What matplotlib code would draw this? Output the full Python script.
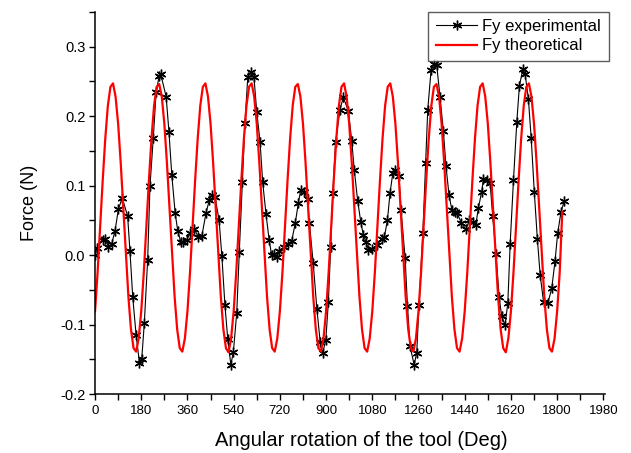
import numpy as np
import matplotlib
matplotlib.use("Agg")
import matplotlib.pyplot as plt
from matplotlib.ticker import MultipleLocator

plt.rcParams['font.family'] = ['Liberation Sans', 'DejaVu Sans']

# Experimental Fy (deg, N)
exp_deg = [0, 7, 30, 39, 52, 65, 78, 91, 106, 127, 136, 147, 160, 173, 182, 192, 205, 214, 227, 238,
           250, 256, 277, 288, 299, 312, 322, 334, 344, 357, 370, 386, 402, 416, 432, 445, 455, 467, 483, 494,
           506, 517, 529, 539, 552, 562, 574, 584, 595, 608, 619, 630, 643, 653, 666, 678, 688, 697, 708, 718,
           736, 751, 766, 780, 792, 801, 815, 828, 835, 850, 864, 877, 887, 899, 909, 918, 926, 937, 954, 967,
           987, 1000, 1010, 1023, 1035, 1045, 1056, 1065, 1078, 1097, 1117, 1127, 1139, 1149, 1160, 1169, 1184, 1192, 1208, 1217,
           1227, 1243, 1253, 1262, 1277, 1288, 1296, 1309, 1322, 1331, 1344, 1357, 1367, 1379, 1390, 1402, 1411, 1427, 1445, 1458,
           1471, 1483, 1493, 1506, 1513, 1526, 1539, 1549, 1562, 1574, 1584, 1597, 1608, 1617, 1630, 1643, 1653, 1666, 1675, 1688,
           1699, 1711, 1723, 1734, 1747, 1764, 1779, 1792, 1802, 1815, 1828]
exp_force = [0.000, 0.010, 0.022, 0.023, 0.012, 0.016, 0.035, 0.066, 0.082, 0.056, 0.006, -0.061, -0.115, -0.155, -0.149, -0.098, -0.007, 0.099, 0.169, 0.234,
             0.258, 0.260, 0.228, 0.177, 0.115, 0.061, 0.035, 0.019, 0.019, 0.022, 0.031, 0.038, 0.026, 0.027, 0.060, 0.079, 0.086, 0.084, 0.051, -0.001,
             -0.072, -0.121, -0.158, -0.139, -0.083, 0.005, 0.105, 0.190, 0.256, 0.264, 0.256, 0.206, 0.162, 0.105, 0.059, 0.022, 0.000, 0.002, -0.003, 0.006,
             0.011, 0.016, 0.020, 0.046, 0.075, 0.093, 0.091, 0.080, 0.046, -0.012, -0.077, -0.125, -0.141, -0.122, -0.067, 0.012, 0.089, 0.162, 0.209, 0.227,
             0.207, 0.164, 0.122, 0.078, 0.048, 0.029, 0.019, 0.007, 0.008, 0.014, 0.023, 0.026, 0.050, 0.089, 0.118, 0.122, 0.113, 0.065, -0.005, -0.073,
             -0.131, -0.158, -0.141, -0.072, 0.032, 0.133, 0.209, 0.266, 0.275, 0.273, 0.227, 0.178, 0.128, 0.086, 0.065, 0.062, 0.060, 0.046, 0.037, 0.050,
             0.047, 0.043, 0.067, 0.091, 0.109, 0.108, 0.103, 0.056, 0.002, -0.060, -0.088, -0.101, -0.069, 0.016, 0.108, 0.192, 0.243, 0.267, 0.261, 0.225,
             0.168, 0.091, 0.023, -0.029, -0.067, -0.069, -0.048, -0.008, 0.031, 0.062, 0.078]

# Theoretical Fy, read every 10 deg from 0 to 1820
theo_step = 10
theo_force = [
    -0.081, -0.025, 0.041, 0.108, 0.168, 0.215, 0.242, 0.247, 0.228, 0.189, 0.133, 0.068, 0.001, -0.060, -0.107, -0.134, -0.139, -0.120,
    -0.081, -0.025, 0.041, 0.108, 0.168, 0.215, 0.242, 0.246, 0.228, 0.189, 0.133, 0.068, 0.001, -0.060, -0.107, -0.134, -0.139, -0.120,
    -0.081, -0.025, 0.041, 0.108, 0.168, 0.215, 0.242, 0.247, 0.228, 0.189, 0.133, 0.068, 0.001, -0.060, -0.107, -0.134, -0.140, -0.120,
    -0.081, -0.025, 0.041, 0.108, 0.168, 0.215, 0.242, 0.247, 0.228, 0.189, 0.133, 0.068, 0.001, -0.060, -0.107, -0.134, -0.139, -0.120,
    -0.081, -0.025, 0.041, 0.108, 0.168, 0.215, 0.242, 0.246, 0.228, 0.189, 0.133, 0.068, 0.001, -0.060, -0.107, -0.134, -0.139, -0.120,
    -0.081, -0.025, 0.041, 0.108, 0.168, 0.215, 0.242, 0.247, 0.228, 0.189, 0.133, 0.068, 0.001, -0.060, -0.107, -0.134, -0.139, -0.120,
    -0.081, -0.025, 0.041, 0.108, 0.168, 0.215, 0.242, 0.247, 0.228, 0.189, 0.133, 0.068, 0.001, -0.060, -0.107, -0.134, -0.139, -0.120,
    -0.081, -0.025, 0.041, 0.108, 0.168, 0.215, 0.242, 0.246, 0.228, 0.189, 0.133, 0.068, 0.001, -0.060, -0.107, -0.134, -0.139, -0.120,
    -0.081, -0.025, 0.041, 0.108, 0.168, 0.215, 0.242, 0.247, 0.228, 0.189, 0.133, 0.068, 0.001, -0.060, -0.107, -0.134, -0.140, -0.120,
    -0.081, -0.025, 0.041, 0.108, 0.168, 0.215, 0.242, 0.247, 0.228, 0.189, 0.133, 0.068, 0.001, -0.060, -0.107, -0.134, -0.139, -0.120,
    -0.081, -0.025, 0.062]
theo_deg = np.arange(len(theo_force)) * theo_step

x_ticks = [0, 180, 360, 540, 720, 900, 1080, 1260, 1440, 1620, 1800, 1980]
y_ticks = [-0.2, -0.1, 0.0, 0.1, 0.2, 0.3]

fig = plt.figure(figsize=(6.31, 4.53), dpi=100)
ax = fig.add_axes([0.1506, 0.1302, 0.8076, 0.8438])

ax.plot(exp_deg, exp_force, color='black', lw=0.8, marker=(6, 2, 0), ms=7, mew=1.0,
        label='Fy experimental')
ax.plot(theo_deg, theo_force, color='#ff0000', lw=1.6, label='Fy theoretical')

ax.set_xlim(0, 1985)
ax.set_ylim(-0.2, 0.35)
ax.set_xticks(x_ticks)
ax.set_xticklabels([str(t) for t in x_ticks])
ax.set_yticks(y_ticks)
ax.set_yticklabels(['-0.2', '-0.1', '0.0', '0.1', '0.2', '0.3'])
ax.xaxis.set_minor_locator(MultipleLocator(90))
ax.yaxis.set_minor_locator(MultipleLocator(0.05))
ax.tick_params(which='both', direction='out', length=4, width=1, pad=3)
ax.tick_params(axis='x', labelsize=9.5, pad=4)
ax.tick_params(axis='y', labelsize=10.5)
for s in ['top', 'right']:
    ax.spines[s].set_visible(False)
for s in ['left', 'bottom']:
    ax.spines[s].set_linewidth(1.1)

ax.set_xlabel('Angular rotation of the tool (Deg)', fontsize=14.5)
ax.xaxis.set_label_coords(0.522, -0.097)
ax.set_ylabel('Force (N)', fontsize=13, labelpad=16)

leg = ax.legend(loc='upper right', bbox_to_anchor=(1.008, 1.0), fontsize=12, frameon=True,
                fancybox=False, borderaxespad=0, handlelength=2.5, handletextpad=0.3,
                borderpad=0.45, labelspacing=0.25)
leg.get_frame().set_edgecolor('#333333')
leg.get_frame().set_linewidth(1.0)

fig.savefig('out.png', dpi=100)
